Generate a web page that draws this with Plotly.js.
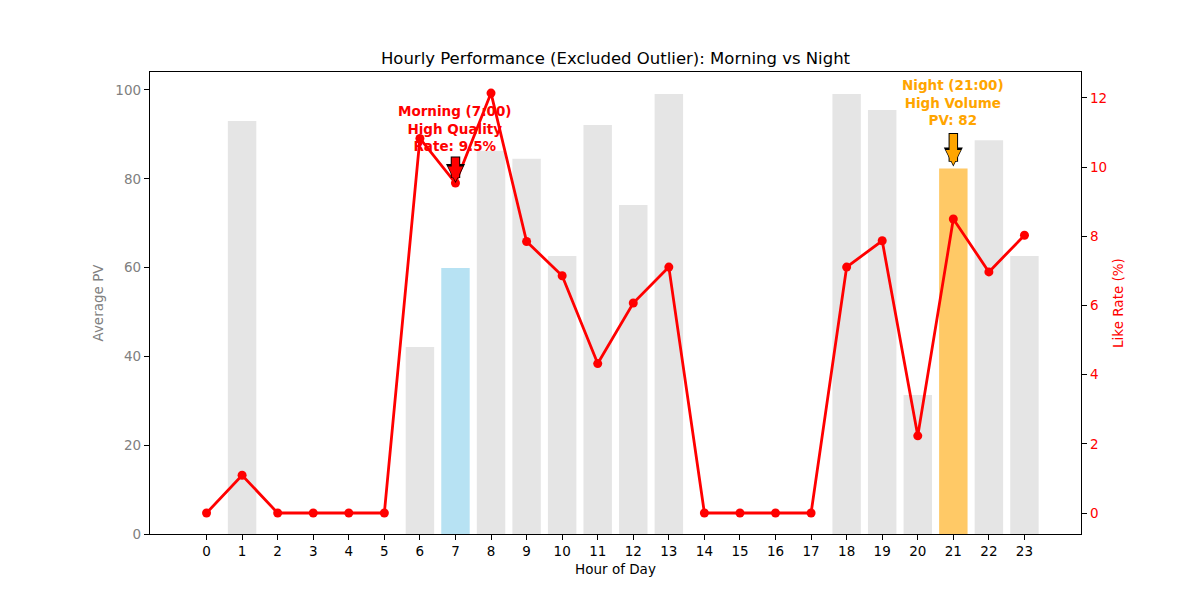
<!DOCTYPE html>
<html>
<head>
<meta charset="utf-8">
<script src="https://cdn.plot.ly/plotly-3.0.1.min.js"></script>
<style>
  html, body { margin: 0; padding: 0; background: white; }
  #plotly-chart { width: 1200px; height: 600px; }
</style>
</head>
<body>
<div id="plotly-chart"></div>
<script>
// values
const hours = [0, 1, 2, 3, 4, 5, 6, 7, 8, 9, 10, 11, 12, 13, 14, 15, 16, 17, 18, 19, 20, 21, 22, 23];
const avgPV = [0, 93.0, 0, 0, 0, 0, 42.1, 59.9, 86.3, 84.5, 62.6, 92.1, 74.1, 99.1, 0, 0, 0, 0, 99.1, 95.5, 31.3, 82.3, 88.7, 62.6];
const likeRate = [0, 1.09, 0, 0, 0, 0, 10.83, 9.54, 12.14, 7.85, 6.86, 4.32, 6.07, 7.11, 0, 0, 0, 0, 7.11, 7.87, 2.23, 8.50, 6.97, 8.03];

const morningHour = 7;
const nightHour = 21;

const barColors = hours.map(h => {
    if (h === morningHour) return 'rgba(135,206,235,0.6)';
    if (h === nightHour) return 'rgba(255,165,0,0.6)';
    return 'rgba(211,211,211,0.6)';
});

const font = 'DejaVu Sans, sans-serif';

const data = [
    {
        x: hours,
        y: avgPV,
        type: 'bar',
        width: 0.8,
        marker: { color: barColors, line: { width: 0 } },
        yaxis: 'y',
        hoverinfo: 'x+y'
    },
    {
        x: hours,
        y: likeRate,
        type: 'scatter',
        mode: 'lines+markers',
        line: { color: 'red', width: 2.8 },
        marker: { color: 'red', size: 9 },
        yaxis: 'y2',
        cliponaxis: false
    }
];

const mRate = likeRate[hours.indexOf(morningHour)];
const nPV = avgPV[hours.indexOf(nightHour)];

// a black arrow under a coloured one gives the outlined look
function outlinedArrow(x, y, yref, len, color, gap) {
    return [
        {
            x: x, y: y, xref: 'x', yref: yref, text: '',
            showarrow: true, ax: 0, ay: -len, arrowhead: 2, arrowsize: 0.4,
            arrowwidth: 9.5, arrowcolor: 'black', standoff: gap
        },
        {
            x: x, y: y, xref: 'x', yref: yref, text: '',
            showarrow: true, ax: 0, ay: -(len - 1), arrowhead: 2, arrowsize: 0.4,
            arrowwidth: 7.5, arrowcolor: color, standoff: gap + 1.6
        }
    ];
}

const annotations = [
    {
        x: morningHour, y: mRate, xref: 'x', yref: 'y2',
        text: 'Morning (' + morningHour + ':00)<br>High Quality<br>Rate: ' + mRate.toFixed(1) + '%',
        showarrow: false, yshift: 55, yanchor: 'middle',
        font: { family: font, size: 13.5, color: 'red', weight: 'bold' }
    },
    ...outlinedArrow(morningHour, mRate, 'y2', 28, 'red', 0),
    {
        x: nightHour, y: nPV, xref: 'x', yref: 'y',
        text: 'Night (' + nightHour + ':00)<br>High Volume<br>PV: ' + Math.round(nPV),
        showarrow: false, yshift: 66, yanchor: 'middle',
        font: { family: font, size: 13.5, color: 'orange', weight: 'bold' }
    },
    ...outlinedArrow(nightHour, nPV, 'y', 37, 'orange', 2)
];

const layout = {
    width: 1200,
    height: 600,
    margin: { l: 150, r: 119, t: 72, b: 66 },
    paper_bgcolor: 'white',
    plot_bgcolor: 'white',
    showlegend: false,
    font: { family: font, size: 13.5, color: 'black' },
    title: {
        text: 'Hourly Performance (Excluded Outlier): Morning vs Night',
        x: 0.5, xref: 'paper', xanchor: 'center',
        y: 1 - 58 / 600, yref: 'container', yanchor: 'middle',
        font: { family: font, size: 16.5, color: 'black' }
    },
    xaxis: {
        title: { text: 'Hour of Day', font: { size: 13.5 }, standoff: 6 },
        range: [-1.59, 24.59],
        tickmode: 'array',
        tickvals: hours,
        ticktext: hours.map(String),
        ticks: 'outside', ticklen: 5, tickcolor: 'black',
        showline: true, linecolor: 'black', linewidth: 1.2, mirror: true,
        showgrid: false, zeroline: false
    },
    yaxis: {
        title: { text: 'Average PV', font: { size: 13.5, color: 'gray' }, standoff: 8 },
        range: [0, 104.05],
        dtick: 20,
        ticks: 'outside', ticklen: 5, tickcolor: 'black',
        tickfont: { color: 'gray' },
        showline: true, linecolor: 'black', linewidth: 1.2,
        showgrid: false, zeroline: false
    },
    yaxis2: {
        title: { text: 'Like Rate (%)', font: { size: 13.5, color: 'red' }, standoff: 7 },
        overlaying: 'y',
        side: 'right',
        range: [-0.607, 12.75],
        dtick: 2,
        ticks: 'outside', ticklen: 5, tickcolor: 'black',
        tickfont: { color: 'red' },
        showline: true, linecolor: 'black', linewidth: 1.2,
        showgrid: false, zeroline: false
    },
    annotations: annotations
};

Plotly.newPlot('plotly-chart', data, layout, { displayModeBar: false, staticPlot: true });
</script>
</body>
</html>
